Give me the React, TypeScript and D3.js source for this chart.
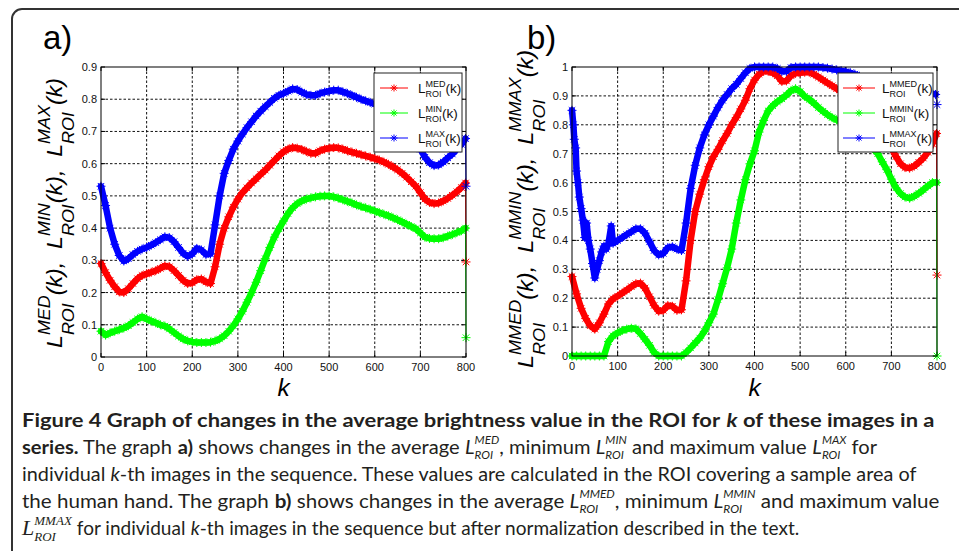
import React from 'react';
import * as d3 from 'd3';

// ---------------- data ----------------
const K = [0,10,20,30,40,50,60,70,80,90,100,110,120,130,140,150,160,170,180,190,200,210,220,230,240,250,260,270,280,290,300,310,320,330,340,350,360,370,380,390,400,410,420,430,440,450,460,470,480,490,500,510,520,530,540,550,560,570,580,590,600,610,620,630,640,650,660,670,680,690,700,710,720,730,740,750,760,770,780,790,799,800];

const MED_A = [0.290,0.262,0.238,0.218,0.202,0.200,0.212,0.228,0.243,0.253,
0.258,0.263,0.268,0.275,0.283,0.280,0.268,0.253,0.238,0.228,
0.230,0.240,0.242,0.233,0.228,0.280,0.350,0.400,0.435,0.465,
0.490,0.510,0.525,0.540,0.553,0.567,0.580,0.595,0.610,0.624,
0.637,0.645,0.650,0.648,0.644,0.638,0.632,0.632,0.640,0.645,
0.648,0.650,0.649,0.645,0.640,0.636,0.632,0.628,0.624,0.620,
0.616,0.611,0.605,0.598,0.590,0.581,0.570,0.558,0.544,0.530,
0.510,0.490,0.480,0.476,0.478,0.484,0.492,0.502,0.513,0.526,
0.540,0.295];

const MIN_A = [0.080,0.068,0.075,0.080,0.085,0.090,0.097,0.107,0.118,0.125,
0.118,0.112,0.106,0.100,0.096,0.087,0.076,0.065,0.056,0.050,
0.047,0.045,0.045,0.045,0.046,0.050,0.056,0.066,0.080,0.097,
0.118,0.142,0.170,0.200,0.232,0.268,0.305,0.340,0.372,0.398,
0.422,0.445,0.463,0.476,0.484,0.490,0.494,0.497,0.499,0.500,
0.500,0.497,0.493,0.488,0.483,0.478,0.472,0.467,0.463,0.458,
0.453,0.448,0.443,0.438,0.432,0.426,0.419,0.412,0.405,0.398,
0.385,0.372,0.368,0.367,0.367,0.370,0.375,0.380,0.386,0.392,
0.400,0.060];

const MAX_A = [0.530,0.470,0.400,0.350,0.315,0.298,0.305,0.318,0.328,0.335,
0.340,0.347,0.355,0.364,0.373,0.370,0.358,0.340,0.322,0.312,
0.320,0.337,0.332,0.318,0.320,0.410,0.500,0.570,0.610,0.645,
0.670,0.692,0.712,0.730,0.748,0.763,0.777,0.790,0.803,0.812,
0.818,0.825,0.832,0.830,0.822,0.815,0.812,0.812,0.818,0.822,
0.825,0.828,0.828,0.823,0.818,0.812,0.806,0.800,0.795,0.790,
0.785,0.779,0.772,0.764,0.755,0.745,0.733,0.718,0.700,0.675,
0.645,0.620,0.603,0.594,0.596,0.605,0.618,0.630,0.645,0.660,
0.678,0.530];

const MMED_B = [0.275,0.215,0.165,0.130,0.105,0.093,0.115,0.145,0.180,0.198,
0.207,0.218,0.228,0.240,0.250,0.252,0.235,0.205,0.175,0.155,
0.158,0.175,0.172,0.158,0.160,0.260,0.400,0.500,0.560,0.610,
0.655,0.690,0.715,0.745,0.770,0.800,0.825,0.855,0.885,0.925,
0.955,0.975,0.985,0.985,0.980,0.970,0.950,0.952,0.970,0.978,
0.980,0.982,0.982,0.975,0.965,0.955,0.945,0.935,0.925,0.915,
0.905,0.895,0.885,0.875,0.862,0.845,0.825,0.800,0.775,0.748,
0.720,0.690,0.665,0.652,0.650,0.657,0.670,0.685,0.705,0.735,
0.770,0.280];

const MMIN_B = [0,0,0,0,0,0,0,0,0.050,0.070,
0.080,0.088,0.093,0.096,0.094,0.078,0.058,0.037,0.012,0,
0,0,0,0,0,0.012,0.028,0.045,0.062,0.085,
0.115,0.145,0.195,0.250,0.305,0.370,0.460,0.540,0.610,0.665,
0.710,0.775,0.815,0.848,0.866,0.880,0.890,0.903,0.918,0.925,
0.915,0.898,0.888,0.875,0.860,0.847,0.835,0.825,0.817,0.810,
0.805,0.798,0.790,0.775,0.760,0.740,0.718,0.700,0.672,0.645,
0.612,0.582,0.562,0.550,0.546,0.553,0.563,0.575,0.588,0.600,
0.600,0];

const K_MAX_B = [0,3,5,8,10,13,16,20,24,28,32,36,40,45,50,55,60,65,70,75,80,86,90,
100,110,120,130,140,150,160,170,180,190,200,210,220,230,240,250,260,270,280,290,300,310,320,330,340,350,360,370,380,390,400,410,420,430,440,450,460,470,480,490,500,510,520,530,540,550,560,570,580,590,600,610,620,630,640,650,660,670,680,690,700,710,720,730,740,750,760,770,780,790,797,800];

const MMAX_B = [0.85,0.80,0.75,0.72,0.64,0.60,0.55,0.51,0.47,0.41,0.46,0.40,0.37,0.32,0.27,0.30,0.33,0.36,0.38,0.37,0.39,0.45,0.39,
0.400,0.410,0.420,0.430,0.440,0.440,0.425,0.395,0.365,0.350,
0.355,0.375,0.378,0.370,0.365,0.460,0.580,0.660,0.720,0.765,
0.800,0.830,0.860,0.885,0.905,0.925,0.940,0.960,0.980,0.995,
1.000,1.000,1.000,1.000,1.000,0.995,0.985,0.985,0.998,1.000,
1.000,1.000,1.000,1.000,1.000,0.998,0.996,0.993,0.990,0.987,
0.984,0.980,0.975,0.968,0.960,0.952,0.944,0.936,0.928,0.920,
0.912,0.905,0.900,0.895,0.893,0.895,0.898,0.902,0.906,0.908,
0.905,0.870];

const X_TICKS = [0,100,200,300,400,500,600,700,800];
const Y_TICKS_A = [0,0.1,0.2,0.3,0.4,0.5,0.6,0.7,0.8,0.9];
const Y_TICKS_B = [0,0.1,0.2,0.3,0.4,0.5,0.6,0.7,0.8,0.9,1];

const RED = '#ff0000';
const GREEN = '#00ff00';
const BLUE = '#0000ff';

// ---------------- text helpers ----------------
const AX_FAM = "'Liberation Sans', Arial, sans-serif";
const CAP_FAM = "Lato, 'Open Sans', sans-serif";

let _canvas: HTMLCanvasElement | null = null;
function textW(t: string, font: string): number {
  if (!_canvas) _canvas = document.createElement('canvas');
  const ctx = _canvas.getContext('2d')!;
  ctx.font = font;
  return ctx.measureText(t).width;
}
type Seg = { t: string; size: number; bold?: boolean; italic?: boolean; family?: string; dy?: number };
type Item = Seg | { stack: true; base: Seg; sup: Seg; sub: Seg };
function fontStr(s: Seg, fam: string) {
  return `${s.italic ? 'italic ' : ''}${s.bold ? '700' : '400'} ${s.size}px ${s.family ?? fam}`;
}
function layout(items: Item[], fam: string) {
  const out: (Seg & { x: number })[] = [];
  let x = 0;
  for (const it of items) {
    if ('stack' in it) {
      const wb = textW(it.base.t, fontStr(it.base, fam));
      out.push({ ...it.base, x });
      const ws = textW(it.sup.t, fontStr(it.sup, fam));
      const wu = textW(it.sub.t, fontStr(it.sub, fam));
      out.push({ ...it.sup, x: x + wb });
      out.push({ ...it.sub, x: x + wb });
      x += wb + Math.max(ws, wu);
    } else {
      out.push({ ...it, x });
      x += textW(it.t, fontStr(it, fam));
    }
  }
  return { out, width: x };
}
function RichText({ items, fam, fill, transform }: { items: Item[]; fam: string; fill: string; transform: (w: number) => string }) {
  const { out, width } = layout(items, fam);
  return (
    <g transform={transform(width)}>
      {out.map((o, i) => (
        <text key={i} x={o.x} y={o.dy ?? 0} fontFamily={o.family ?? fam} fontSize={o.size}
          fontWeight={o.bold ? 700 : 400} fontStyle={o.italic ? 'italic' : 'normal'} fill={fill}
          style={{ whiteSpace: 'pre' }}>{o.t}</text>
      ))}
    </g>
  );
}
const stackL = (sup: string, sub: string, size: number, scr: number, supDy: number, subDy: number, italic: boolean, family?: string): Item => ({
  stack: true,
  base: { t: 'L', size, italic, family },
  sup: { t: sup, size: scr, italic, dy: supDy, family },
  sub: { t: sub, size: scr, italic, dy: subDy, family },
});

function asterisk(r: number) {
  const d = r * 0.72;
  return `M${-r},0H${r}M0,${-r}V${r}M${-d},${-d}L${d},${d}M${-d},${d}L${d},${-d}`;
}

// ---------------- panel ----------------
type Series = { k: number[]; v: number[]; color: string; name: string };
function Panel({ left, right, top, bottom, yMax, yTicks, series, legendBox, legLine, legTextX, yLabel, yLabelX, yLabelY, yLabelLen, title, titleX }: any) {
  const x = d3.scaleLinear().domain([0, 800]).range([left, right]);
  const y = d3.scaleLinear().domain([0, yMax]).range([bottom, top]);
  const line = d3.line<[number, number]>().x(d => x(d[0])).y(d => y(d[1]));
  const fmt = (d: number) => String(Math.round(d * 10) / 10);
  const rows = [88, 113, 138];
  return (
    <g>
      {/* grid */}
      {X_TICKS.filter(t => t > 0 && t < 800).map(t => (
        <line key={'gx' + t} x1={x(t)} x2={x(t)} y1={top} y2={bottom} stroke="#111" strokeWidth={1} strokeDasharray="2.5,2" />
      ))}
      {yTicks.filter((t: number) => t > 0 && t < yMax).map((t: number) => (
        <line key={'gy' + t} x1={left} x2={right} y1={y(t)} y2={y(t)} stroke="#111" strokeWidth={1} strokeDasharray="2.5,2" />
      ))}
      {/* ticks */}
      {X_TICKS.map(t => (
        <g key={'tx' + t}>
          <line x1={x(t)} x2={x(t)} y1={bottom} y2={bottom - 4} stroke="#000" />
          <line x1={x(t)} x2={x(t)} y1={top} y2={top + 4} stroke="#000" />
          <text x={x(t)} y={bottom + 14} textAnchor="middle" fontFamily={AX_FAM} fontSize={11} fill="#111">{t}</text>
        </g>
      ))}
      {yTicks.map((t: number) => (
        <g key={'ty' + t}>
          <line x1={left} x2={left + 4} y1={y(t)} y2={y(t)} stroke="#000" />
          <line x1={right} x2={right - 4} y1={y(t)} y2={y(t)} stroke="#000" />
          <text x={left - 4} y={y(t) + 4} textAnchor="end" fontFamily={AX_FAM} fontSize={11} fill="#111">{fmt(t)}</text>
        </g>
      ))}
      {/* series */}
      {(series as Series[]).map(s => {
        const pts: [number, number][] = s.k.map((k, i) => [k, s.v[i]]);
        const n = pts.length;
        return (
          <g key={s.name}>
            <path d={line(pts.slice(0, n - 1)) || ''} fill="none" stroke={s.color} strokeWidth={6.5} strokeLinejoin="round" strokeLinecap="round" />
            <path d={line(pts.slice(n - 2)) || ''} fill="none" stroke={s.color} strokeWidth={1} />
            {pts.map((p, i) => (
              <path key={i} transform={`translate(${x(p[0])},${y(p[1])})`} d={asterisk(4.5)} stroke={s.color} strokeWidth={1} fill="none" />
            ))}
          </g>
        );
      })}
      {/* box */}
      <rect x={left} y={top} width={right - left} height={bottom - top} fill="none" stroke="#000" strokeWidth={1} />
      {/* legend */}
      <rect x={legendBox[0]} y={legendBox[1]} width={legendBox[2] - legendBox[0]} height={legendBox[3] - legendBox[1]} fill="#fff" stroke="#222" strokeWidth={1} />
      {(series as Series[]).map((s, i) => (
        <g key={'lg' + s.name}>
          <line x1={legLine[0]} x2={legLine[1]} y1={rows[i]} y2={rows[i]} stroke={s.color} strokeWidth={1} />
          <path transform={`translate(${(legLine[0] + legLine[1]) / 2},${rows[i]})`} d={asterisk(3.5)} stroke={s.color} strokeWidth={1} fill="none" />
          <RichText fam={AX_FAM} fill="#111"
            items={[stackL(s.name, 'ROI', 13.5, 9, -5.5, 4.5, false), { t: '(k)', size: 13.5 }]}
            transform={() => `translate(${legTextX},${rows[i] + 4.5})`} />
        </g>
      ))}
      {/* x label */}
      <text x={(left + right) / 2} y={396} textAnchor="middle" fontFamily={AX_FAM} fontStyle="italic" fontSize={24.5} fill="#000">k</text>
      {/* y label */}
      <RichText fam={AX_FAM} fill="#000" items={yLabel}
        transform={(w) => { const sc = yLabelLen / w; return `translate(${yLabelX},${yLabelY}) rotate(-90) translate(${-yLabelLen / 2},0) scale(${sc},1)`; }} />
      <text x={titleX} y={49} fontFamily={AX_FAM} fontSize={33} fill="#000">{title}</text>
    </g>
  );
}

function yLabelItems(names: string[]): Item[] {
  const items: Item[] = [];
  names.forEach((nm, i) => {
    items.push(stackL(nm, 'ROI', 22, 17, -12, 12, true));
    items.push({ t: i < names.length - 1 ? '(k),  ' : '(k)', size: 22, italic: true });
  });
  return items;
}

const CS = 19, CSS = 11;
const capL = (sup: string) => stackL(sup, 'ROI', CS, CSS, -10.5, 5, true);
const CAPTION: { items: Item[]; end: number; base: number }[] = [
  { base: 427, end: 935, items: [
    { t: 'Figure 4 Graph of changes in the average brightness value in the ROI for ', size: CS, bold: true },
    { t: 'k', size: CS, bold: true, italic: true },
    { t: ' of these images in a', size: CS, bold: true }] },
  { base: 454, end: 877, items: [
    { t: 'series.', size: CS, bold: true }, { t: ' The graph ', size: CS }, { t: 'a)', size: CS, bold: true },
    { t: ' shows changes in the average ', size: CS }, capL('MED'), { t: ', minimum ', size: CS }, capL('MIN'),
    { t: ' and maximum value ', size: CS }, capL('MAX'), { t: ' for', size: CS }] },
  { base: 481, end: 918, items: [
    { t: 'individual ', size: CS }, { t: 'k', size: CS, italic: true },
    { t: '-th images in the sequence. These values are calculated in the ROI covering a sample area of', size: CS }] },
  { base: 508, end: 940, items: [
    { t: 'the human hand. The graph ', size: CS }, { t: 'b)', size: CS, bold: true },
    { t: ' shows changes in the average ', size: CS }, capL('MMED'), { t: ', minimum ', size: CS }, capL('MMIN'),
    { t: ' and maximum value', size: CS }] },
  { base: 535, end: 800, items: [
    stackL('MMAX', 'ROI', 22, 13, -10, 6, true, "'Liberation Serif', 'Times New Roman', serif"),
    { t: ' for individual ', size: CS }, { t: 'k', size: CS, italic: true },
    { t: '-th images in the sequence but after normalization described in the text.', size: CS }] },
];

export default function App() {
  const seriesA: Series[] = [
    { k: K, v: MED_A, color: RED, name: 'MED' },
    { k: K, v: MIN_A, color: GREEN, name: 'MIN' },
    { k: K, v: MAX_A, color: BLUE, name: 'MAX' },
  ];
  const seriesB: Series[] = [
    { k: K, v: MMED_B, color: RED, name: 'MMED' },
    { k: K, v: MMIN_B, color: GREEN, name: 'MMIN' },
    { k: K_MAX_B, v: MMAX_B, color: BLUE, name: 'MMAX' },
  ];
  return (
    <svg width={959} height={551} style={{ position: 'absolute', left: 0, top: 0, background: '#fff' }}>
      <rect x={0} y={0} width={959} height={551} fill="#fff" />
      <rect x={12} y={9} width={1000} height={600} rx={10} ry={10} fill="none" stroke="#333" strokeWidth={2} />
      <Panel left={101} right={466} top={67} bottom={357} yMax={0.9} yTicks={Y_TICKS_A} series={seriesA}
        legendBox={[374, 73, 462, 152]} legLine={[380, 408]} legTextX={418}
        yLabel={yLabelItems(['MED', 'MIN', 'MAX'])} yLabelX={62} yLabelY={213} yLabelLen={270}
        title="a)" titleX={43} />
      <Panel left={572} right={937} top={67} bottom={356} yMax={1} yTicks={Y_TICKS_B} series={seriesB}
        legendBox={[838, 73, 933, 152]} legLine={[843, 875]} legTextX={882}
        yLabel={yLabelItems(['MMED', 'MMIN', 'MMAX'])} yLabelX={533} yLabelY={209} yLabelLen={318}
        title="b)" titleX={527} />
      {CAPTION.map((c, i) => (
        <RichText key={i} fam={CAP_FAM} fill="#231f20" items={c.items}
          transform={(w) => `translate(22,${c.base}) scale(${(c.end - 22) / w},1)`} />
      ))}
    </svg>
  );
}
